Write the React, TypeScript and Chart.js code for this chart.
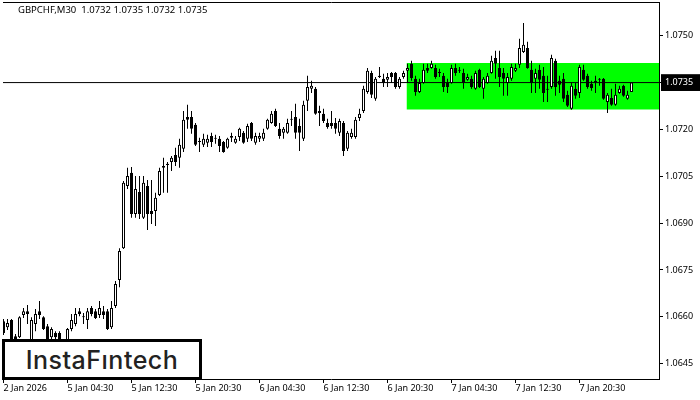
import React, { useEffect, useRef } from 'react';
import { Chart, registerables } from 'chart.js';

Chart.register(...registerables);

const symbolTitle = 'GBPCHF,M30  1.0732 1.0735 1.0732 1.0735';
const logoText = 'InstaFıntech';

const opens = [
  1.06586, 1.06567, 1.06590, 1.06538, 1.06535, 1.06606, 1.06618, 1.06506, 1.06577, 1.06618,
  1.06599, 1.06570, 1.06535, 1.06548, 1.06548, 1.06522, 1.06522, 1.06561, 1.06577, 1.06618,
  1.06602, 1.06590, 1.06628, 1.06618, 1.06606, 1.06618, 1.06618, 1.06567, 1.06635, 1.06718,
  1.06820, 1.07019, 1.07061, 1.06929, 1.07000, 1.06917, 1.07019, 1.06939, 1.06939, 1.06990,
  1.07077, 1.07086, 1.07096, 1.07118, 1.07109, 1.07138, 1.07240, 1.07240, 1.07215, 1.07160,
  1.07151, 1.07157, 1.07179, 1.07170, 1.07170, 1.07160, 1.07141, 1.07173, 1.07157, 1.07176,
  1.07189, 1.07170, 1.07221, 1.07157, 1.07170, 1.07170, 1.07202, 1.07221, 1.07259, 1.07202,
  1.07189, 1.07189, 1.07231, 1.07240, 1.07211, 1.07170, 1.07292, 1.07330, 1.07330, 1.07259,
  1.07250, 1.07221, 1.07221, 1.07221, 1.07189, 1.07221, 1.07138, 1.07176, 1.07176, 1.07237,
  1.07259, 1.07320, 1.07381, 1.07298, 1.07372, 1.07362, 1.07359, 1.07381, 1.07381, 1.07336,
  1.07368, 1.07388, 1.07410, 1.07362, 1.07320, 1.07349, 1.07397, 1.07397, 1.07397, 1.07384,
  1.07372, 1.07349, 1.07349, 1.07397, 1.07391, 1.07381, 1.07359, 1.07362, 1.07330, 1.07391,
  1.07330, 1.07349, 1.07381, 1.07429, 1.07397, 1.07381, 1.07349, 1.07362, 1.07388, 1.07407,
  1.07448, 1.07461, 1.07391, 1.07362, 1.07391, 1.07372, 1.07330, 1.07336, 1.07420, 1.07356,
  1.07362, 1.07311, 1.07266, 1.07330, 1.07317, 1.07391, 1.07372, 1.07346, 1.07356, 1.07362,
  1.07362, 1.07288, 1.07301, 1.07279, 1.07317, 1.07340, 1.07298, 1.0732,
];
const highs = [
  1.06593, 1.06593, 1.06593, 1.06545, 1.06602, 1.06628, 1.06638, 1.06599, 1.06625, 1.06651,
  1.06602, 1.06577, 1.06567, 1.06554, 1.06554, 1.06529, 1.06564, 1.06609, 1.06628, 1.06628,
  1.06612, 1.06628, 1.06635, 1.06625, 1.06651, 1.06635, 1.06625, 1.06651, 1.06715, 1.06820,
  1.07035, 1.07077, 1.07080, 1.07051, 1.07051, 1.07051, 1.07038, 1.07038, 1.06997, 1.07077,
  1.07109, 1.07096, 1.07115, 1.07141, 1.07170, 1.07259, 1.07279, 1.07259, 1.07221, 1.07173,
  1.07186, 1.07183, 1.07189, 1.07183, 1.07179, 1.07163, 1.07173, 1.07189, 1.07179, 1.07205,
  1.07195, 1.07218, 1.07224, 1.07189, 1.07189, 1.07202, 1.07234, 1.07259, 1.07266, 1.07221,
  1.07208, 1.07234, 1.07259, 1.07282, 1.07234, 1.07292, 1.07372, 1.07356, 1.07336, 1.07276,
  1.07266, 1.07234, 1.07259, 1.07237, 1.07234, 1.07227, 1.07195, 1.07202, 1.07240, 1.07266,
  1.07340, 1.07397, 1.07388, 1.07368, 1.07400, 1.07378, 1.07381, 1.07384, 1.07384, 1.07368,
  1.07388, 1.07410, 1.07420, 1.07372, 1.07362, 1.07410, 1.07410, 1.07420, 1.07407, 1.07394,
  1.07381, 1.07362, 1.07407, 1.07410, 1.07400, 1.07394, 1.07378, 1.07372, 1.07388, 1.07394,
  1.07368, 1.07381, 1.07436, 1.07452, 1.07452, 1.07397, 1.07381, 1.07410, 1.07410, 1.07490,
  1.07541, 1.07481, 1.07420, 1.07394, 1.07407, 1.07400, 1.07372, 1.07439, 1.07426, 1.07372,
  1.07381, 1.07324, 1.07349, 1.07349, 1.07407, 1.07407, 1.07378, 1.07356, 1.07372, 1.07365,
  1.07365, 1.07317, 1.07330, 1.07346, 1.07340, 1.07343, 1.07324, 1.0735,
];
const lows = [
  1.06542, 1.06558, 1.06525, 1.06522, 1.06532, 1.06596, 1.06577, 1.06503, 1.06554, 1.06593,
  1.06558, 1.06516, 1.06522, 1.06519, 1.06516, 1.06513, 1.06516, 1.06554, 1.06570, 1.06602,
  1.06577, 1.06561, 1.06602, 1.06593, 1.06596, 1.06593, 1.06558, 1.06561, 1.06628, 1.06695,
  1.06817, 1.07009, 1.06917, 1.06917, 1.06913, 1.06913, 1.06878, 1.06897, 1.06891, 1.06987,
  1.06997, 1.06997, 1.07067, 1.07083, 1.07077, 1.07128, 1.07202, 1.07186, 1.07147, 1.07128,
  1.07144, 1.07144, 1.07144, 1.07154, 1.07128, 1.07125, 1.07138, 1.07160, 1.07154, 1.07163,
  1.07154, 1.07160, 1.07163, 1.07151, 1.07160, 1.07163, 1.07199, 1.07218, 1.07208, 1.07170,
  1.07170, 1.07186, 1.07211, 1.07170, 1.07131, 1.07163, 1.07259, 1.07317, 1.07247, 1.07211,
  1.07221, 1.07202, 1.07202, 1.07186, 1.07179, 1.07115, 1.07131, 1.07170, 1.07170, 1.07227,
  1.07253, 1.07314, 1.07301, 1.07292, 1.07365, 1.07336, 1.07336, 1.07349, 1.07330, 1.07330,
  1.07362, 1.07349, 1.07356, 1.07308, 1.07317, 1.07346, 1.07381, 1.07394, 1.07362, 1.07368,
  1.07320, 1.07317, 1.07346, 1.07372, 1.07381, 1.07330, 1.07356, 1.07330, 1.07327, 1.07333,
  1.07298, 1.07346, 1.07378, 1.07362, 1.07336, 1.07308, 1.07308, 1.07356, 1.07384, 1.07397,
  1.07445, 1.07394, 1.07317, 1.07317, 1.07330, 1.07288, 1.07288, 1.07330, 1.07308, 1.07317,
  1.07288, 1.07272, 1.07263, 1.07298, 1.07301, 1.07356, 1.07330, 1.07324, 1.07317, 1.07340,
  1.07295, 1.07253, 1.07276, 1.07276, 1.07314, 1.07305, 1.07295, 1.0732,
];
const closes = [
  1.06548, 1.06580, 1.06529, 1.06529, 1.06599, 1.06618, 1.06609, 1.06590, 1.06609, 1.06606,
  1.06561, 1.06522, 1.06561, 1.06535, 1.06522, 1.06519, 1.06561, 1.06590, 1.06609, 1.06609,
  1.06599, 1.06618, 1.06609, 1.06596, 1.06628, 1.06606, 1.06561, 1.06628, 1.06705, 1.06811,
  1.07029, 1.07051, 1.06929, 1.07009, 1.06929, 1.07029, 1.06929, 1.06929, 1.06981, 1.07067,
  1.07083, 1.07090, 1.07109, 1.07096, 1.07151, 1.07231, 1.07231, 1.07202, 1.07151, 1.07163,
  1.07170, 1.07170, 1.07160, 1.07173, 1.07147, 1.07128, 1.07170, 1.07179, 1.07170, 1.07202,
  1.07157, 1.07211, 1.07170, 1.07179, 1.07179, 1.07189, 1.07231, 1.07250, 1.07211, 1.07179,
  1.07202, 1.07221, 1.07234, 1.07189, 1.07189, 1.07279, 1.07336, 1.07340, 1.07250, 1.07253,
  1.07227, 1.07208, 1.07211, 1.07202, 1.07227, 1.07131, 1.07189, 1.07189, 1.07231, 1.07250,
  1.07330, 1.07388, 1.07311, 1.07362, 1.07368, 1.07349, 1.07368, 1.07368, 1.07336, 1.07362,
  1.07381, 1.07397, 1.07365, 1.07320, 1.07349, 1.07391, 1.07388, 1.07410, 1.07368, 1.07381,
  1.07336, 1.07336, 1.07397, 1.07381, 1.07388, 1.07349, 1.07368, 1.07336, 1.07381, 1.07336,
  1.07362, 1.07372, 1.07420, 1.07410, 1.07368, 1.07362, 1.07368, 1.07400, 1.07397, 1.07461,
  1.07471, 1.07397, 1.07349, 1.07381, 1.07359, 1.07317, 1.07327, 1.07429, 1.07336, 1.07343,
  1.07298, 1.07276, 1.07340, 1.07308, 1.07400, 1.07359, 1.07336, 1.07333, 1.07352, 1.07359,
  1.07298, 1.07311, 1.07279, 1.07311, 1.07330, 1.07308, 1.07311, 1.0735,
];

const xTickIndexes = [0, 16, 32, 48, 64, 80, 96, 112, 128, 144];
const xTickLabels = [
  '2 Jan 2026', '5 Jan 04:30', '5 Jan 12:30', '5 Jan 20:30', '6 Jan 04:30',
  '6 Jan 12:30', '6 Jan 20:30', '7 Jan 04:30', '7 Jan 12:30', '7 Jan 20:30',
];
const yTickValues = [1.0645, 1.066, 1.0675, 1.069, 1.0705, 1.072, 1.0735, 1.075];
const currentPrice = 1.0735;
const zoneTop = 1.07413;
const zoneBottom = 1.07264;
const zoneStart = 100.75;

const X_MIN = -0.125;
const X_MAX = 163.875;
const Y_MIN = 1.06401;
const Y_MAX = 1.07608;

export default function App() {
  const ref = useRef<HTMLCanvasElement>(null);

  useEffect(() => {
    const prevMargin = document.body.style.margin;
    document.body.style.margin = '0';
    const canvas = ref.current as HTMLCanvasElement;
    const axisFont = { family: "'Noto Sans', sans-serif", size: 9 };
    const noPad = (s: any) => {
      s.paddingTop = 0;
      s.paddingBottom = 0;
      s.paddingLeft = 0;
      s.paddingRight = 0;
    };

    const chart = new Chart(canvas, {
      type: 'bar',
      data: {
        datasets: [
          {
            type: 'bar',
            label: 'body',
            data: opens.map((o, i) => ({ x: i, y: [o, closes[i]] })) as any,
            backgroundColor: opens.map((o, i) => (closes[i] >= o ? '#ffffff' : '#000000')),
            borderColor: '#000000',
            borderWidth: 1,
            borderSkipped: false,
            barThickness: 3,
            grouped: false,
            minBarLength: 1,
            inflateAmount: 0,
            order: 0,
          } as any,
          {
            type: 'bar',
            label: 'wick',
            data: lows.map((l, i) => ({ x: i, y: [l, highs[i]] })) as any,
            backgroundColor: '#000000',
            borderWidth: 0,
            barThickness: 1,
            grouped: false,
            inflateAmount: 0,
            order: 1,
          } as any,
          {
            type: 'line',
            label: 'price',
            data: [
              { x: X_MIN, y: currentPrice },
              { x: X_MAX, y: currentPrice },
            ],
            borderColor: '#000000',
            borderWidth: 1,
            pointRadius: 0,
            order: 2,
          } as any,
          {
            type: 'line',
            label: 'zone',
            data: [
              { x: zoneStart, y: zoneTop },
              { x: X_MAX, y: zoneTop },
            ],
            borderColor: 'rgba(0,0,0,0)',
            borderWidth: 0,
            backgroundColor: '#00ff00',
            fill: { value: zoneBottom },
            pointRadius: 0,
            order: 3,
          } as any,
        ],
      },
      options: {
        responsive: false,
        animation: false,
        devicePixelRatio: 1,
        layout: { padding: { left: 3, top: 2, right: 0, bottom: 0 } },
        plugins: {
          legend: { display: false },
          tooltip: { enabled: false },
          title: { display: false },
        },
        scales: {
          x: {
            type: 'linear',
            position: 'bottom',
            min: X_MIN,
            max: X_MAX,
            offset: false,
            grid: {
              display: true,
              drawOnChartArea: false,
              drawTicks: true,
              tickLength: 4,
              color: '#000000',
              offset: false,
            },
            border: { display: true, color: '#000000', width: 1 },
            ticks: {
              autoSkip: false,
              maxRotation: 0,
              minRotation: 0,
              align: 'start',
              padding: 0,
              color: '#000000',
              font: axisFont,
              callback: (v: any) => {
                const k = xTickIndexes.indexOf(Number(v));
                return k >= 0 ? xTickLabels[k] : '';
              },
            },
            afterBuildTicks: (s: any) => {
              s.ticks = xTickIndexes.map((v) => ({ value: v }));
            },
            afterFit: (s: any) => {
              s.height = 21;
              noPad(s);
            },
          },
          xTop: {
            type: 'linear',
            position: 'top',
            min: X_MIN,
            max: X_MAX,
            offset: false,
            grid: { display: false, drawTicks: false },
            ticks: { display: false },
            border: { display: true, color: '#000000', width: 1 },
            afterFit: (s: any) => {
              s.height = 0;
              noPad(s);
            },
          },
          y: {
            type: 'linear',
            position: 'right',
            min: Y_MIN,
            max: Y_MAX,
            beginAtZero: false,
            bounds: 'data',
            grid: {
              drawOnChartArea: false,
              drawTicks: true,
              tickLength: 4,
              color: '#000000',
            },
            border: { display: true, color: '#000000', width: 1 },
            ticks: {
              padding: 2,
              font: axisFont,
              color: (c: any) => (c.tick && c.tick.value === currentPrice ? '#ffffff' : '#000000'),
              showLabelBackdrop: true,
              backdropColor: (c: any) =>
                c.tick && c.tick.value === currentPrice ? '#000000' : 'rgba(0,0,0,0)',
              backdropPadding: { left: 4, right: 8, top: 3, bottom: 3 },
              callback: (v: any) => Number(v).toFixed(4),
            },
            afterBuildTicks: (s: any) => {
              s.ticks = yTickValues.map((v) => ({ value: v }));
            },
            afterFit: (s: any) => {
              s.width = 41;
              noPad(s);
            },
          },
        } as any,
      },
    });

    return () => {
      chart.destroy();
      document.body.style.margin = prevMargin;
    };
  }, []);

  return (
    <div style={{ position: 'fixed', left: 0, top: 0, width: 700, height: 400, background: '#ffffff' }}>
      <canvas ref={ref} width={700} height={400} style={{ display: 'block', width: 700, height: 400 }} />
      <div
        style={{
          position: 'absolute',
          left: 18,
          top: 4,
          font: "9.5px 'Noto Sans', sans-serif",
          lineHeight: '12px',
          color: '#000000',
          whiteSpace: 'pre',
        }}
      >
        {symbolTitle}
      </div>
      <div
        style={{
          position: 'absolute',
          left: 2,
          top: 339,
          width: 200,
          height: 41,
          boxSizing: 'border-box',
          border: '3px solid #000000',
          background: '#ffffff',
          display: 'flex',
          alignItems: 'center',
          justifyContent: 'center',
          font: "500 25px Inter, sans-serif",
          color: '#222222',
          letterSpacing: '0.5px',
        }}
      >
        {logoText}
      </div>
    </div>
  );
}
